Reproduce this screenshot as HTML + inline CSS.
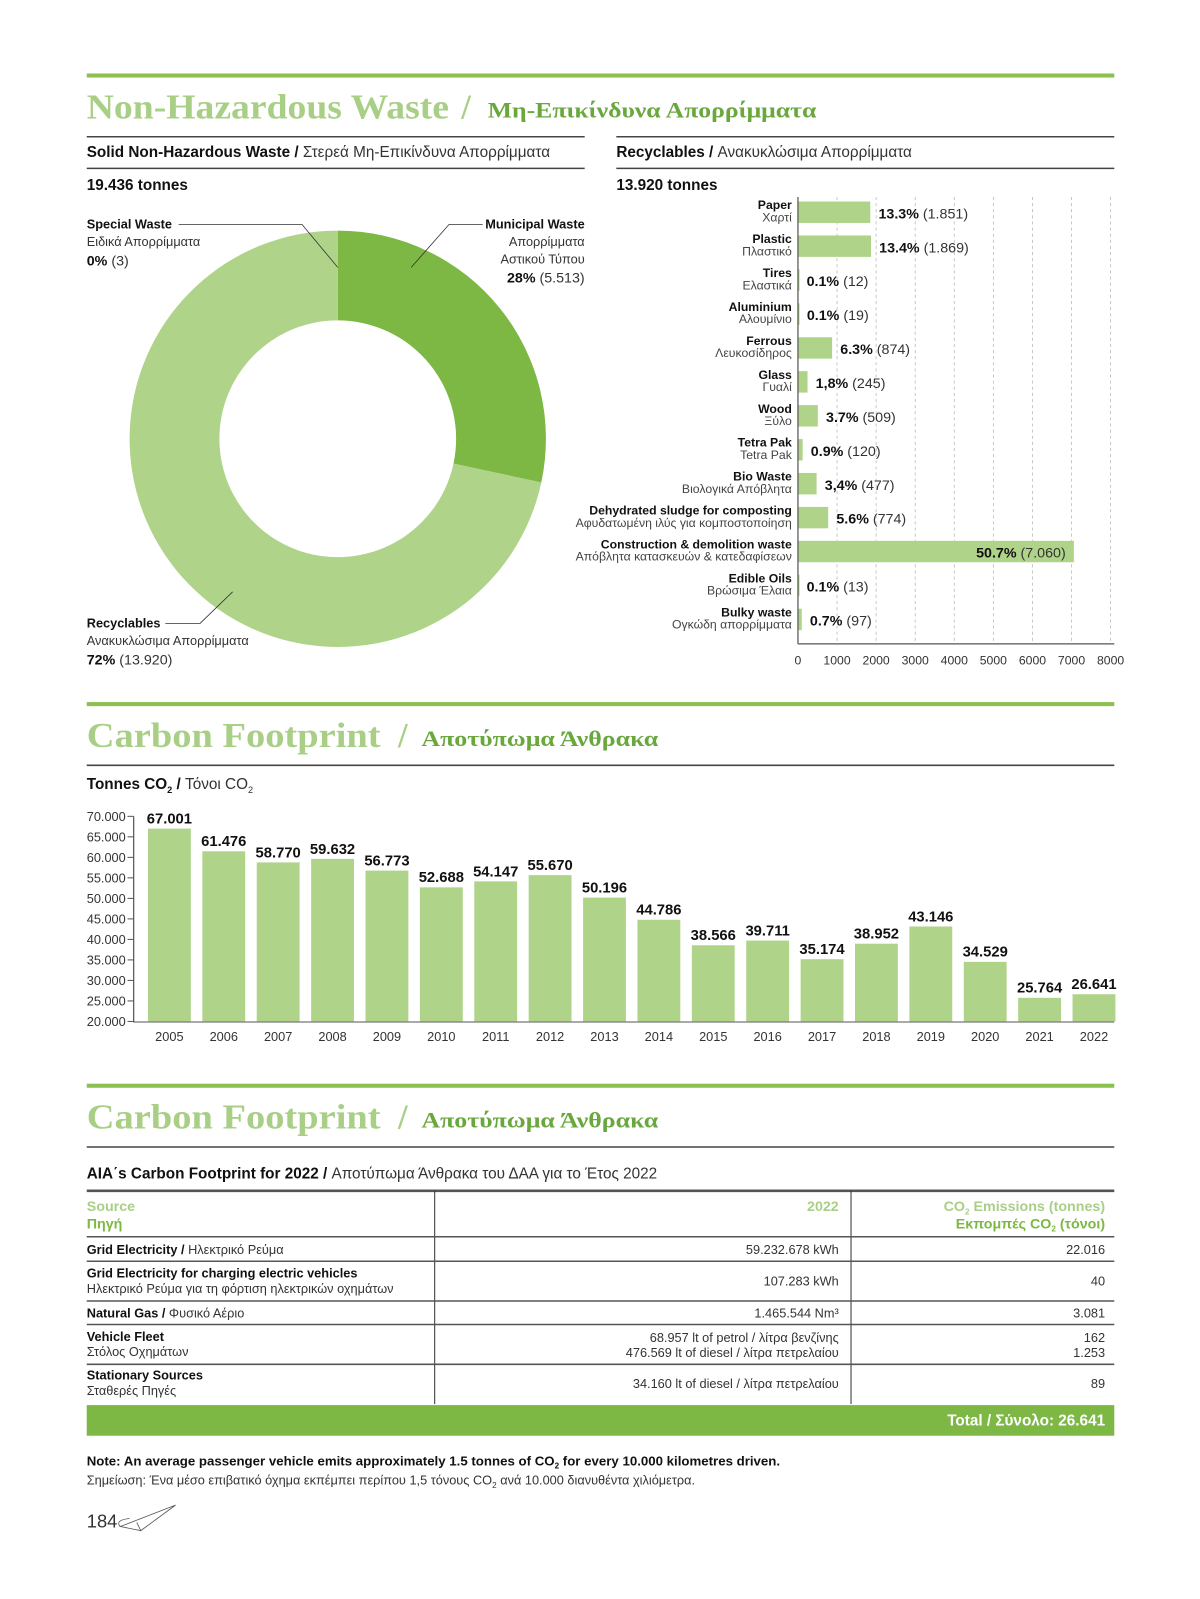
<!DOCTYPE html>
<html><head><meta charset="utf-8">
<style>
html,body{margin:0;padding:0;background:#fff;}
svg{display:block;}
text{font-family:"Liberation Sans","DejaVu Sans",sans-serif;}
.serif{font-family:"Liberation Serif","DejaVu Serif",serif;font-weight:bold;}
.b{font-weight:bold;fill:#111;}
.n{fill:#333;}
</style></head>
<body>
<svg id="page" width="1200" height="1599" viewBox="0 0 1176 1567" preserveAspectRatio="none" xmlns="http://www.w3.org/2000/svg">
<!-- Section 1 header -->
<rect x="85" y="72" width="1007" height="4" fill="#8cc152"/>
<text class="serif" x="85" y="116" font-size="34" fill="#a9cf87" textLength="355" lengthAdjust="spacingAndGlyphs">Non-Hazardous Waste</text>
<text class="serif" x="452" y="116" font-size="34" fill="#a9cf87">/</text>
<text class="serif" x="478" y="115" font-size="22" fill="#6aa83e" textLength="322" lengthAdjust="spacingAndGlyphs">Μη-Επικίνδυνα Απορρίμματα</text>

<line x1="85" y1="134" x2="573" y2="134" stroke="#444" stroke-width="1.5"/>
<line x1="85" y1="165" x2="573" y2="165" stroke="#444" stroke-width="1.5"/>
<text x="85" y="154" font-size="15"><tspan class="b">Solid Non-Hazardous Waste /</tspan><tspan class="n"> Στερεά Μη-Επικίνδυνα Απορρίμματα</tspan></text>
<text class="b" x="85" y="186" font-size="15">19.436 tonnes</text>

<line x1="604" y1="134" x2="1092" y2="134" stroke="#444" stroke-width="1.5"/>
<line x1="604" y1="165" x2="1092" y2="165" stroke="#444" stroke-width="1.5"/>
<text x="604" y="154" font-size="15"><tspan class="b">Recyclables /</tspan><tspan class="n"> Ανακυκλώσιμα Απορρίμματα</tspan></text>
<text class="b" x="604" y="186" font-size="15">13.920 tonnes</text>

<g id="donut"></g>
<g font-size="12.5">
<text x="85" y="224" class="b">Special Waste</text>
<text x="85" y="241" class="n">Ειδικά Απορρίμματα</text>
<text x="85" y="260" font-size="14"><tspan class="b">0%</tspan><tspan class="n"> (3)</tspan></text>
<polyline points="175,220 296,220 331,262" fill="none" stroke="#333" stroke-width="0.8"/>
<text x="573" y="224" class="b" text-anchor="end">Municipal Waste</text>
<text x="573" y="241" class="n" text-anchor="end">Απορρίμματα</text>
<text x="573" y="258" class="n" text-anchor="end">Αστικού Τύπου</text>
<text x="573" y="277" font-size="14" text-anchor="end"><tspan class="b">28%</tspan><tspan class="n"> (5.513)</tspan></text>
<polyline points="473,220 440,220 403,262" fill="none" stroke="#333" stroke-width="0.8"/>
<text x="85" y="615" class="b">Recyclables</text>
<text x="85" y="632" class="n">Ανακυκλώσιμα Απορρίμματα</text>
<text x="85" y="651" font-size="14"><tspan class="b">72%</tspan><tspan class="n"> (13.920)</tspan></text>
<polyline points="162,611 196,611 228,580" fill="none" stroke="#333" stroke-width="0.8"/>
</g>

<g id="recChart"></g>

<!-- Section 2 -->
<rect x="85" y="688" width="1007" height="4" fill="#8cc152"/>
<text class="serif" x="85" y="732" font-size="34" fill="#a9cf87" textLength="288" lengthAdjust="spacingAndGlyphs">Carbon Footprint</text>
<text class="serif" x="390" y="732" font-size="34" fill="#a9cf87">/</text>
<text class="serif" x="413" y="731" font-size="22" fill="#6aa83e" textLength="232" lengthAdjust="spacingAndGlyphs">Αποτύπωμα Άνθρακα</text>
<line x1="85" y1="750" x2="1092" y2="750" stroke="#444" stroke-width="1.5"/>
<text x="85" y="773" font-size="15"><tspan class="b">Tonnes CO</tspan><tspan class="b" font-size="9" dy="4">2</tspan><tspan class="b" dy="-4"> /</tspan><tspan class="n"> Τόνοι CO</tspan><tspan class="n" font-size="9" dy="4">2</tspan></text>
<g id="co2Chart"></g>

<!-- Section 3 -->
<rect x="85" y="1062" width="1007" height="4" fill="#8cc152"/>
<text class="serif" x="85" y="1106" font-size="34" fill="#a9cf87" textLength="288" lengthAdjust="spacingAndGlyphs">Carbon Footprint</text>
<text class="serif" x="390" y="1106" font-size="34" fill="#a9cf87">/</text>
<text class="serif" x="413" y="1105" font-size="22" fill="#6aa83e" textLength="232" lengthAdjust="spacingAndGlyphs">Αποτύπωμα Άνθρακα</text>
<line x1="85" y1="1124" x2="1092" y2="1124" stroke="#444" stroke-width="1.5"/>
<text x="85" y="1155" font-size="15"><tspan class="b">AIA΄s Carbon Footprint for 2022 /</tspan><tspan class="n"> Αποτύπωμα Άνθρακα του ΔΑΑ για το Έτος 2022</tspan></text>

<g font-size="12.5">
<line x1="85" y1="1167" x2="1092" y2="1167" stroke="#555" stroke-width="2.5"/>
<line x1="426" y1="1167" x2="426" y2="1376" stroke="#333" stroke-width="1"/>
<line x1="834" y1="1167" x2="834" y2="1376" stroke="#333" stroke-width="1"/>
<text x="85" y="1187" font-size="14" font-weight="bold" fill="#a9cf87">Source</text>
<text x="85" y="1204" font-size="14" font-weight="bold" fill="#7cb843">Πηγή</text>
<text x="822" y="1187" font-size="14" font-weight="bold" fill="#a9cf87" text-anchor="end">2022</text>
<text x="1083" y="1187" font-size="14" font-weight="bold" fill="#a9cf87" text-anchor="end">CO<tspan font-size="8" dy="3">2</tspan><tspan dy="-3"> Emissions (tonnes)</tspan></text>
<text x="1083" y="1204" font-size="14" font-weight="bold" fill="#7cb843" text-anchor="end">Εκπομπές CO<tspan font-size="8" dy="3">2</tspan><tspan dy="-3"> (τόνοι)</tspan></text>
<line x1="85" y1="1212" x2="1092" y2="1212" stroke="#555" stroke-width="1.5"/>
<text x="85" y="1229"><tspan class="b">Grid Electricity /</tspan><tspan class="n"> Ηλεκτρικό Ρεύμα</tspan></text>
<text x="822" y="1229" class="n" text-anchor="end">59.232.678 kWh</text>
<text x="1083" y="1229" class="n" text-anchor="end">22.016</text>
<line x1="85" y1="1236" x2="1092" y2="1236" stroke="#555" stroke-width="1.5"/>
<text x="85" y="1252" class="b">Grid Electricity for charging electric vehicles</text>
<text x="85" y="1267" class="n">Ηλεκτρικό Ρεύμα για τη φόρτιση ηλεκτρικών οχημάτων</text>
<text x="822" y="1260" class="n" text-anchor="end">107.283 kWh</text>
<text x="1083" y="1260" class="n" text-anchor="end">40</text>
<line x1="85" y1="1275" x2="1092" y2="1275" stroke="#555" stroke-width="1.5"/>
<text x="85" y="1291"><tspan class="b">Natural Gas /</tspan><tspan class="n"> Φυσικό Αέριο</tspan></text>
<text x="822" y="1291" class="n" text-anchor="end">1.465.544 Nm³</text>
<text x="1083" y="1291" class="n" text-anchor="end">3.081</text>
<line x1="85" y1="1298" x2="1092" y2="1298" stroke="#555" stroke-width="1.5"/>
<text x="85" y="1314" class="b">Vehicle Fleet</text>
<text x="85" y="1329" class="n">Στόλος Οχημάτων</text>
<text x="822" y="1315" class="n" text-anchor="end">68.957 lt of petrol / λίτρα βενζίνης</text>
<text x="822" y="1330" class="n" text-anchor="end">476.569 lt of diesel / λίτρα πετρελαίου</text>
<text x="1083" y="1315" class="n" text-anchor="end">162</text>
<text x="1083" y="1330" class="n" text-anchor="end">1.253</text>
<line x1="85" y1="1337" x2="1092" y2="1337" stroke="#555" stroke-width="1.5"/>
<text x="85" y="1352" class="b">Stationary Sources</text>
<text x="85" y="1367" class="n">Σταθερές Πηγές</text>
<text x="822" y="1360" class="n" text-anchor="end">34.160 lt of diesel / λίτρα πετρελαίου</text>
<text x="1083" y="1360" class="n" text-anchor="end">89</text>
<rect x="85" y="1377" width="1007" height="30" fill="#7cb843"/>
<text x="1083" y="1397" font-size="15" font-weight="bold" fill="#fff" text-anchor="end">Total / Σύνολο: 26.641</text>
</g>

<text x="85" y="1436" font-size="13" class="b">Note: An average passenger vehicle emits approximately 1.5 tonnes of CO<tspan font-size="8" dy="3">2</tspan><tspan dy="-3"> for every 10.000 kilometres driven.</tspan></text>
<text x="85" y="1455" font-size="12.5" class="n">Σημείωση: Ένα μέσο επιβατικό όχημα εκπέμπει περίπου 1,5 τόνους CO<tspan font-size="8" dy="3">2</tspan><tspan dy="-3"> ανά 10.000 διανυθέντα χιλιόμετρα.</tspan></text>
<text x="85" y="1497" font-size="18" class="n">184</text>
<g fill="none" stroke="#555" stroke-width="0.8">
<path d="M118,1496 L172,1475 L138,1500 Z M138,1500 L134,1492 M118,1496 Q112,1490 127,1488"/>
</g>
</svg>
<script>
const NS="http://www.w3.org/2000/svg";
function mk(parent,tag,attrs,txt){const e=document.createElementNS(NS,tag);for(const k in attrs)e.setAttribute(k,attrs[k]);if(txt!==undefined)e.textContent=txt;parent.appendChild(e);return e;}

// ---------- Donut data ----------
const donutCategories=["Municipal Waste","Recyclables","Special Waste"];
const donutValues=[5513,13920,3];
const donutColors=["#7cb843","#b0d38a","#a9cf87"];

// ---------- Recyclables data ----------
const recNamesEn=["Paper","Plastic","Tires","Aluminium","Ferrous","Glass","Wood","Tetra Pak","Bio Waste","Dehydrated sludge for composting","Construction & demolition waste","Edible Oils","Bulky waste"];
const recNamesGr=["Χαρτί","Πλαστικό","Ελαστικά","Αλουμίνιο","Λευκοσίδηρος","Γυαλί","Ξύλο","Tetra Pak","Βιολογικά Απόβλητα","Αφυδατωμένη ιλύς για κομποστοποίηση","Απόβλητα κατασκευών & κατεδαφίσεων","Βρώσιμα Έλαια","Ογκώδη απορρίμματα"];
const recValues=[1851,1869,12,19,874,245,509,120,477,774,7060,13,97];
const recPercents=["13.3%","13.4%","0.1%","0.1%","6.3%","1,8%","3.7%","0.9%","3,4%","5.6%","50.7%","0.1%","0.7%"];
const recValueLabels=["1.851","1.869","12","19","874","245","509","120","477","774","7.060","13","97"];
const recTicks=[0,1000,2000,3000,4000,5000,6000,7000,8000];

// ---------- CO2 data ----------
const co2Years=["2005","2006","2007","2008","2009","2010","2011","2012","2013","2014","2015","2016","2017","2018","2019","2020","2021","2022"];
const co2Values=[67001,61476,58770,59632,56773,52688,54147,55670,50196,44786,38566,39711,35174,38952,43146,34529,25764,26641];
const co2Ticks=[20000,25000,30000,35000,40000,45000,50000,55000,60000,65000,70000];

function fmt(v){return v.toString().replace(/\B(?=(\d{3})+(?!\d))/g,".");}

// Donut
(function(){
  const g=document.getElementById("donut");
  const cx=331,cy=430,R=204,r=116;
  const total=donutValues.reduce((a,b)=>a+b,0);
  let a0=0;
  donutValues.forEach((v,i)=>{
    const a1=a0+v/total*2*Math.PI;
    const p=(rad,ang)=>[cx+rad*Math.sin(ang),cy-rad*Math.cos(ang)];
    const large=(a1-a0)>Math.PI?1:0;
    const [x0,y0]=p(R,a0),[x1,y1]=p(R,a1),[x2,y2]=p(r,a1),[x3,y3]=p(r,a0);
    const d=`M${x0},${y0} A${R},${R} 0 ${large} 1 ${x1},${y1} L${x2},${y2} A${r},${r} 0 ${large} 0 ${x3},${y3} Z`;
    const s=mk(g,"path",{d:d,fill:donutColors[i]});
    
    
    a0=a1;
  });
})();

// Recyclables horizontal bars
(function(){
  const g=document.getElementById("recChart");
  const x0=782,pxPer=38.3/1000,top=208,step=33.25,bh=21;
  const xs=v=>x0+v*pxPer;
  const ys=i=>top+i*step;
  recTicks.forEach(t=>{
    if(t>0){const l=mk(g,"line",{x1:xs(t),y1:193,x2:xs(t),y2:630,stroke:"#bbb","stroke-width":0.8,"stroke-dasharray":"3,3"});
      }
    const tl=mk(g,"text",{x:xs(t),y:651,"font-size":12,"text-anchor":"middle",fill:"#333"},String(t));
    
  });
  recValues.forEach((v,i)=>{
    const y=ys(i);
    const b=mk(g,"rect",{x:x0,y:y-bh/2,width:Math.max(1.5,v*pxPer),height:bh,fill:"#b0d38a"});
    
    const le=mk(g,"text",{x:776,y:y-3,"font-size":12,"text-anchor":"end","font-weight":"bold",fill:"#111"},recNamesEn[i]);
    
    const lg=mk(g,"text",{x:776,y:y+9,"font-size":12,"text-anchor":"end",fill:"#444"},recNamesGr[i]);
    
    const big=v>5000;
    const t=mk(g,"text",{x:big?xs(v)-8:xs(v)+8,y:y+6,"font-size":14,"text-anchor":big?"end":"start"});
    
    mk(t,"tspan",{"font-weight":"bold",fill:"#111"},recPercents[i]);
    mk(t,"tspan",{fill:"#333"}," ("+recValueLabels[i]+")");
  });
  const ax=mk(g,"line",{x1:x0,y1:193,x2:x0,y2:631,stroke:"#555","stroke-width":1.2});
  
  const bx=mk(g,"line",{x1:x0,y1:631,x2:1092,y2:631,stroke:"#555","stroke-width":1.2});
  
})();

// CO2 vertical bars
(function(){
  const g=document.getElementById("co2Chart");
  const axX=131,yMin=20000,yMax=70000,yTop=800,yBot=1001;
  const ys=v=>yBot-(v-yMin)/(yMax-yMin)*(yBot-yTop);
  const c0=166,step=53.3,bw=42;
  const xs=i=>c0+i*step;
  co2Ticks.forEach(t=>{
    const y=ys(t);
    const tk=mk(g,"line",{x1:axX-6,y1:y,x2:axX,y2:y,stroke:"#555","stroke-width":1});
    
    const tl=mk(g,"text",{x:85,y:y+4.5,"font-size":12.5,fill:"#333"},fmt(t));
    
  });
  co2Values.forEach((v,i)=>{
    const b=mk(g,"rect",{x:xs(i)-bw/2,y:ys(v),width:bw,height:yBot-ys(v),fill:"#b0d38a"});
    
    const vl=mk(g,"text",{x:xs(i),y:ys(v)-5,"font-size":14.5,"font-weight":"bold","text-anchor":"middle",fill:"#111"},fmt(v));
    
    const xl=mk(g,"text",{x:xs(i),y:1020,"font-size":12.5,"text-anchor":"middle",fill:"#333"},co2Years[i]);
    
  });
  const ya=mk(g,"line",{x1:axX,y1:yTop,x2:axX,y2:yBot+1,stroke:"#555","stroke-width":1.2});
  
  const xa=mk(g,"line",{x1:axX,y1:yBot+0.5,x2:1092,y2:yBot+0.5,stroke:"#777","stroke-width":1.2});
  
})();
</script>
</body></html>
